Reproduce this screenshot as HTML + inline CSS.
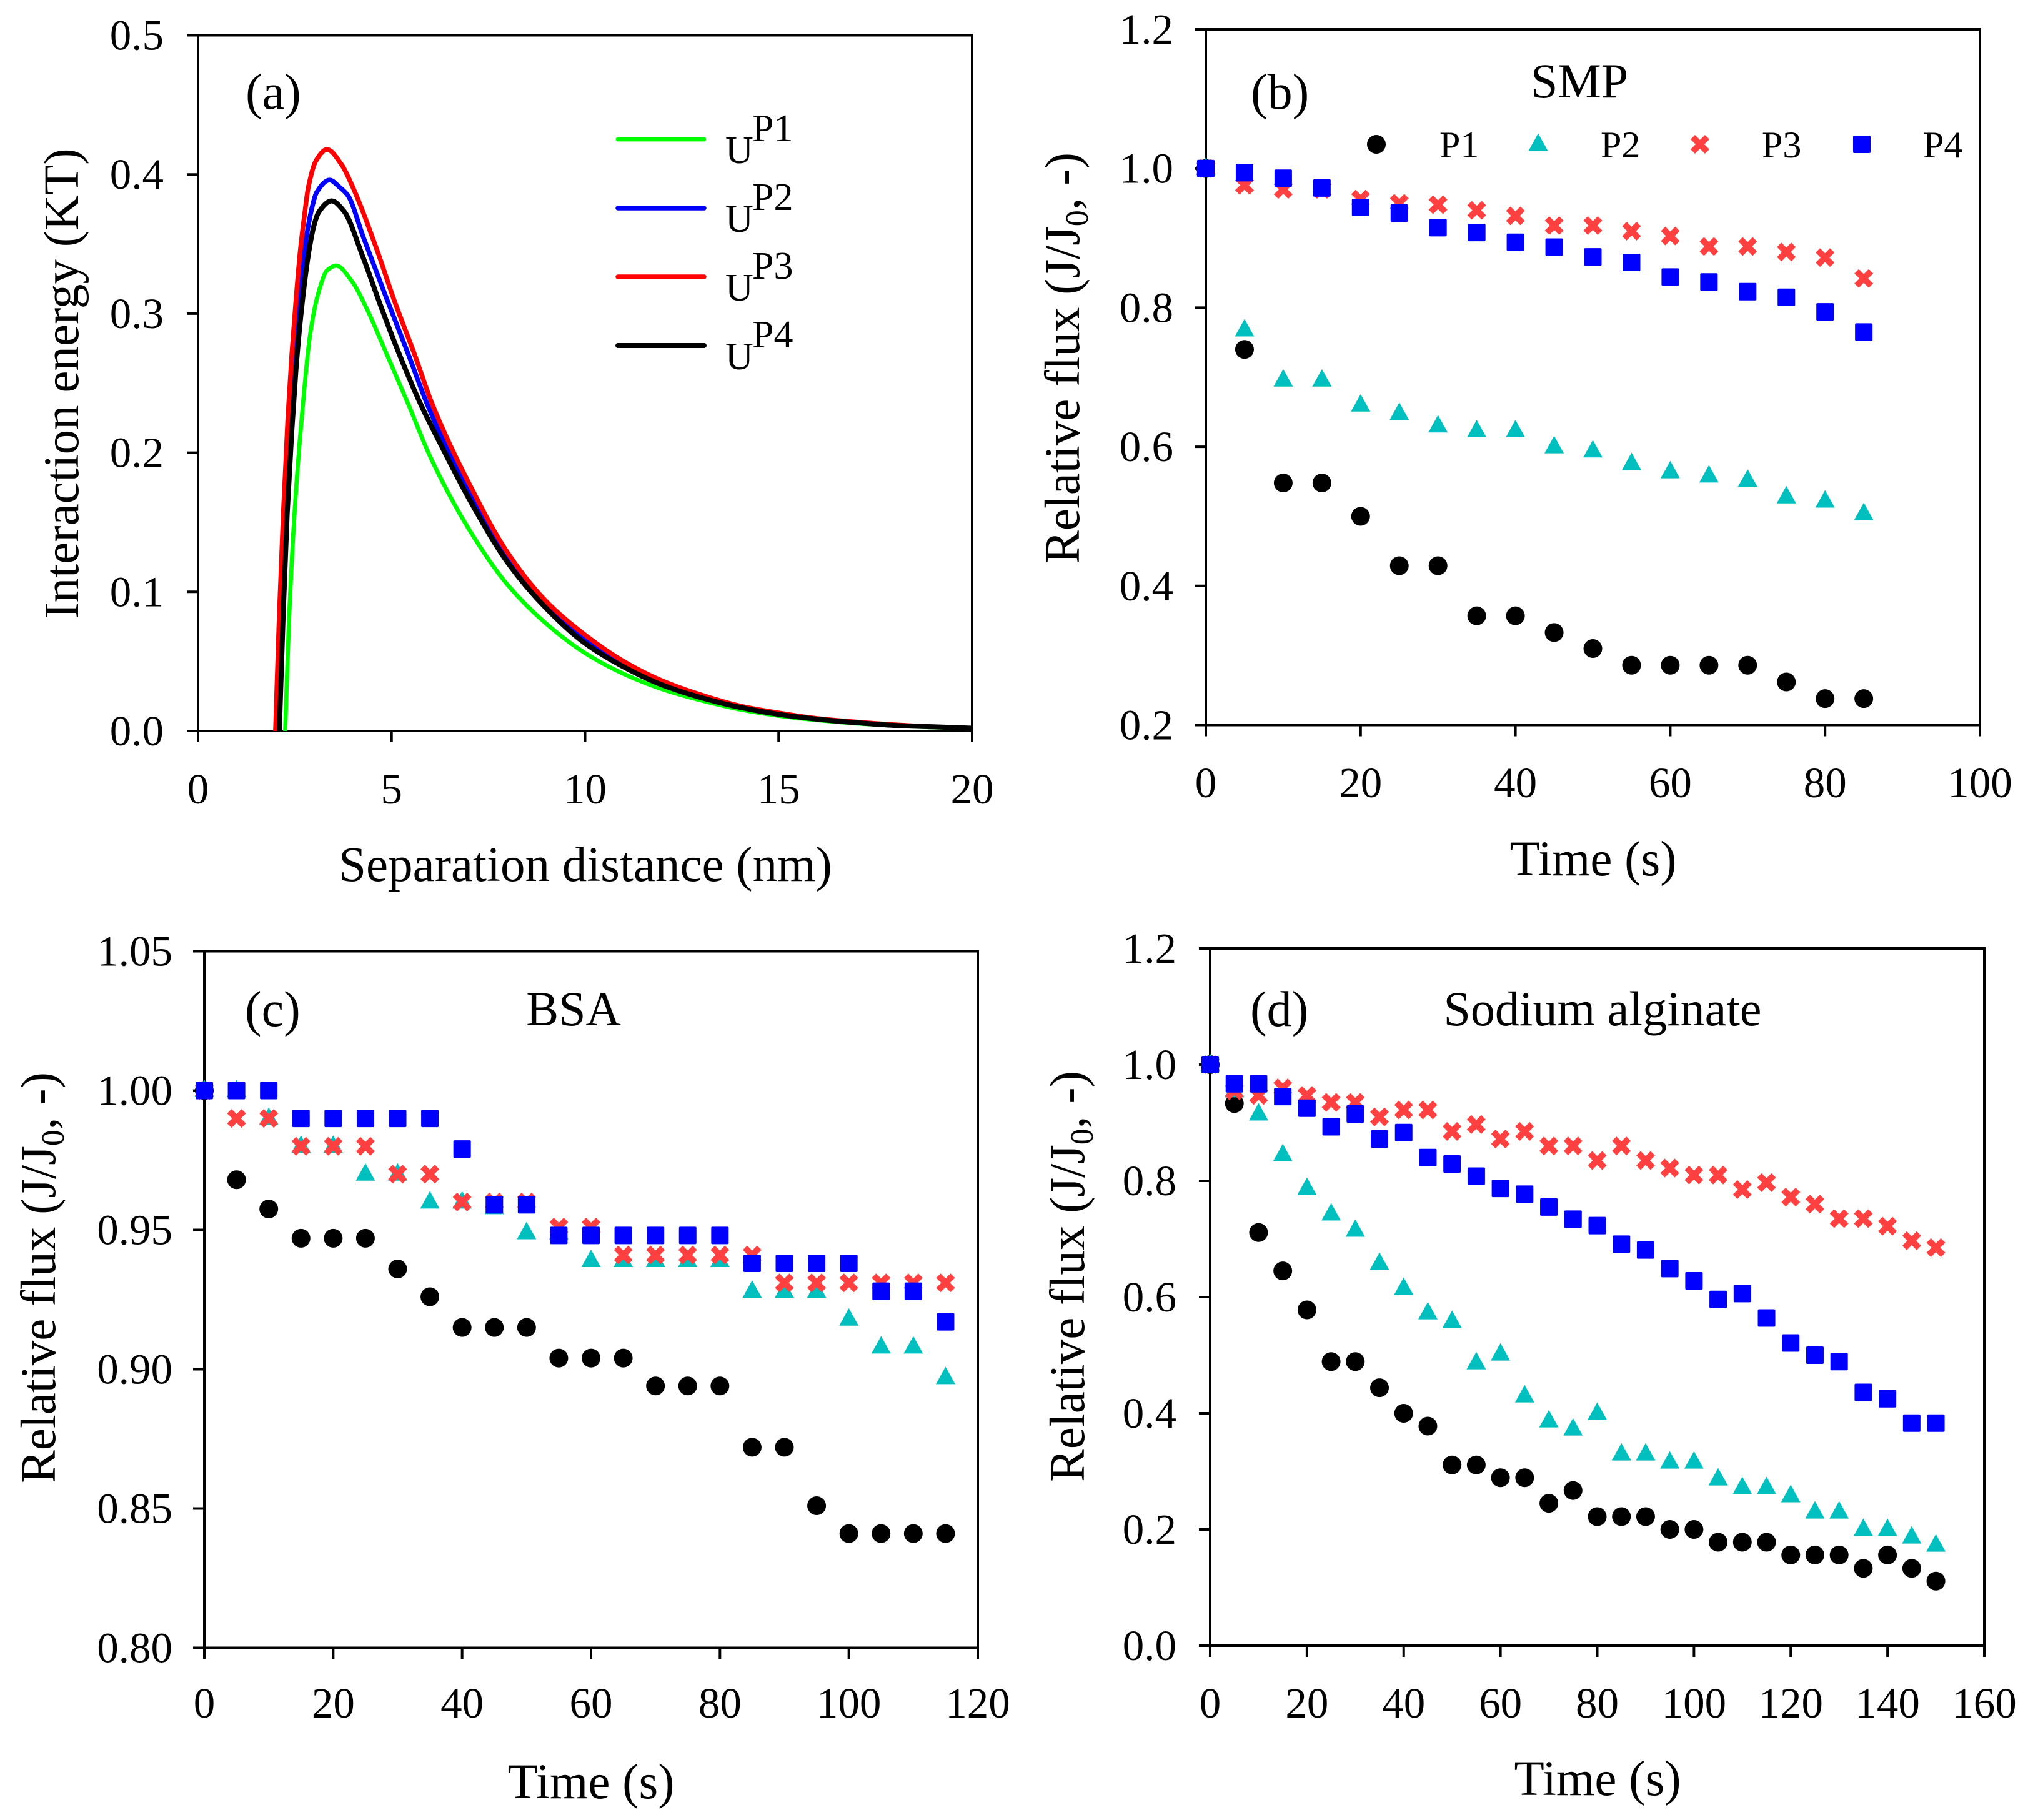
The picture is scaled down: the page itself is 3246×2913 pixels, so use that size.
<!DOCTYPE html>
<html lang="en">
<head>
<meta charset="utf-8">
<title>Interaction energy and relative flux charts</title>
<style>
html,body{margin:0;padding:0;background:#fff;}
svg{display:block;}
text{font-family:"Liberation Serif","Times New Roman",serif;fill:#000;}
</style>
</head>
<body>
<svg id="figure" xmlns="http://www.w3.org/2000/svg" width="3246" height="2913" viewBox="0 0 3246 2913">
  <rect x="0" y="0" width="3246" height="2913" fill="#fff"/>

  <text x="393" y="174" font-size="80">(a)</text>
  <text x="2002" y="174" font-size="80">(b)</text>
  <text x="392" y="1642" font-size="80">(c)</text>
  <text x="2001" y="1642" font-size="80">(d)</text>

  <text x="2528" y="156" font-size="78" text-anchor="middle">SMP</text>
  <text x="918" y="1641" font-size="78" text-anchor="middle">BSA</text>
  <text x="2565" y="1641" font-size="78" text-anchor="middle">Sodium alginate</text>

  <text x="937" y="1410" font-size="79" text-anchor="middle">Separation distance (nm)</text>
  <text x="2550" y="1401" font-size="79" text-anchor="middle">Time (s)</text>
  <text x="946" y="2878" font-size="79" text-anchor="middle">Time (s)</text>
  <text x="2557" y="2873" font-size="79" text-anchor="middle">Time (s)</text>

  <text transform="translate(125 614) rotate(-90)" font-size="79" text-anchor="middle">Interaction energy (KT)</text>
  <text transform="translate(1727 573) rotate(-90)" font-size="79" text-anchor="middle">Relative flux (J/J<tspan dy="14" font-size="52">0</tspan><tspan dy="-14">, -)</tspan></text>
  <text transform="translate(88 2045) rotate(-90)" font-size="79" text-anchor="middle">Relative flux (J/J<tspan dy="14" font-size="52">0</tspan><tspan dy="-14">, -)</tspan></text>
  <text transform="translate(1735 2043) rotate(-90)" font-size="79" text-anchor="middle">Relative flux (J/J<tspan dy="14" font-size="52">0</tspan><tspan dy="-14">, -)</tspan></text>

  <g id="frames"></g>
  <g id="marks"></g>

  <g>
    <line x1="989" x2="1127" y1="223" y2="223" stroke="#00ff00" stroke-width="6.7" stroke-linecap="round"/>
    <text x="1161" y="261" font-size="62">U</text>
    <text x="1204" y="226" font-size="62">P1</text>
    <line x1="989" x2="1127" y1="333" y2="333" stroke="#0000ff" stroke-width="7.5" stroke-linecap="round"/>
    <text x="1161" y="371" font-size="62">U</text>
    <text x="1204" y="336" font-size="62">P2</text>
    <line x1="989" x2="1127" y1="443" y2="443" stroke="#ff0000" stroke-width="7.5" stroke-linecap="round"/>
    <text x="1161" y="481" font-size="62">U</text>
    <text x="1204" y="446" font-size="62">P3</text>
    <line x1="989" x2="1127" y1="553" y2="553" stroke="#000000" stroke-width="8" stroke-linecap="round"/>
    <text x="1161" y="591" font-size="62">U</text>
    <text x="1204" y="556" font-size="62">P4</text>
  </g>

  <g id="legend-b">
    <text x="2304" y="252" font-size="60">P1</text>
    <text x="2562" y="252" font-size="60">P2</text>
    <text x="2820" y="252" font-size="60">P3</text>
    <text x="3078" y="252" font-size="60">P4</text>
  </g>
</svg>

<script>
// Panel (a) — separation distance (nm) and interaction energy (kT)
const energyP1Distance = [2.25,2.35,2.5,2.71,2.9,3.12,3.33,3.57,3.98,4.35,4.78,5.43,6,7,8,9,10,11,12,13,14,15,16,17,18,19,20];
const energyP1Values = [0,0.08,0.16,0.235,0.286,0.316,0.331,0.3345,0.323,0.304,0.277,0.235,0.197,0.145,0.105,0.077,0.056,0.041,0.03,0.022,0.0155,0.011,0.0078,0.0055,0.0038,0.0026,0.0018];
const energyP2Distance = [2.05,2.15,2.25,2.37,2.48,2.6,2.75,2.86,2.95,3.06,3.4,3.65,3.87,4.27,4.87,5.43,5.92,7,8,9,10,11,12,13,14,15,16,17,18,19,20];
const energyP2Values = [0,0.085,0.155,0.22,0.27,0.31,0.346,0.365,0.377,0.387,0.396,0.391,0.385,0.355,0.311,0.271,0.235,0.171,0.124,0.09,0.066,0.048,0.035,0.025,0.018,0.0125,0.0088,0.0062,0.0043,0.003,0.002];
const energyP3Distance = [2,2.1,2.2,2.32,2.42,2.53,2.64,2.75,2.85,3.05,3.33,3.71,3.98,4.62,5.05,5.59,6.05,7,8,9,10,11,12,13,14,15,16,17,18,19,20];
const energyP3Values = [0,0.085,0.155,0.225,0.27,0.31,0.345,0.371,0.391,0.41,0.418,0.407,0.392,0.346,0.311,0.271,0.235,0.178,0.128,0.093,0.069,0.05,0.036,0.026,0.018,0.013,0.009,0.0065,0.0045,0.003,0.002];
const energyP4Distance = [2.1,2.2,2.3,2.42,2.53,2.68,2.87,3,3.12,3.45,3.76,4.27,4.7,5.27,5.75,6.25,7,8,9,10,11,12,13,14,15,16,17,18,19,20];
const energyP4Values = [0,0.085,0.155,0.215,0.26,0.305,0.346,0.364,0.373,0.381,0.374,0.34,0.307,0.266,0.235,0.207,0.167,0.121,0.088,0.063,0.046,0.033,0.024,0.017,0.012,0.0085,0.006,0.004,0.003,0.002];
const energyXTicks = [0,5,10,15,20];
const energyYTicks = ["0.0","0.1","0.2","0.3","0.4","0.5"];

// Panel (b) — SMP
const smpTime = [0,5,10,15,20,25,30,35,40,45,50,55,60,65,70,75,80,85];
const smpP1 = [1,0.74,0.548,0.548,0.5,0.429,0.429,0.357,0.357,0.333,0.31,0.286,0.286,0.286,0.286,0.262,0.238,0.238];
const smpP2 = [1,0.768,0.696,0.696,0.66,0.648,0.63,0.623,0.623,0.6,0.594,0.576,0.564,0.558,0.552,0.528,0.522,0.504];
const smpP3 = [1,0.976,0.97,0.97,0.956,0.95,0.948,0.94,0.932,0.918,0.918,0.91,0.903,0.888,0.888,0.88,0.872,0.842];
const smpP4 = [1,0.994,0.986,0.972,0.944,0.936,0.915,0.908,0.894,0.887,0.873,0.865,0.844,0.837,0.823,0.815,0.794,0.765];
const smpXTicks = [0,20,40,60,80,100];
const smpYTicks = ["0.2","0.4","0.6","0.8","1.0","1.2"];

// Panel (c) — BSA
const bsaTime = [0,5,10,15,20,25,30,35,40,45,50,55,60,65,70,75,80,85,90,95,100,105,110,115];
const bsaP1 = [1,0.968,0.9575,0.947,0.947,0.947,0.936,0.926,0.915,0.915,0.915,0.904,0.904,0.904,0.894,0.894,0.894,0.872,0.872,0.851,0.841,0.841,0.841,0.841];
const bsaP2 = [1,1,0.99,0.98,0.98,0.97,0.97,0.96,0.96,0.958,0.949,0.949,0.939,0.939,0.939,0.939,0.939,0.928,0.928,0.928,0.918,0.908,0.908,0.897];
const bsaP3 = [1,0.99,0.99,0.98,0.98,0.98,0.97,0.97,0.96,0.96,0.96,0.951,0.951,0.941,0.941,0.941,0.941,0.941,0.931,0.931,0.931,0.931,0.931,0.931];
const bsaP4 = [1,1,1,0.99,0.99,0.99,0.99,0.99,0.979,0.959,0.959,0.948,0.948,0.948,0.948,0.948,0.948,0.938,0.938,0.938,0.938,0.928,0.928,0.917];
const bsaXTicks = [0,20,40,60,80,100,120];
const bsaYTicks = ["0.80","0.85","0.90","0.95","1.00","1.05"];

// Panel (d) — Sodium alginate
const alginateTime = [0,5,10,15,20,25,30,35,40,45,50,55,60,65,70,75,80,85,90,95,100,105,110,115,120,125,130,135,140,145,150];
const alginateP1 = [1,0.933,0.711,0.645,0.578,0.489,0.489,0.444,0.4,0.378,0.311,0.311,0.289,0.289,0.245,0.267,0.222,0.222,0.222,0.2,0.2,0.178,0.178,0.178,0.156,0.156,0.156,0.133,0.156,0.133,0.111];
const alginateP2 = [1,0.955,0.915,0.845,0.787,0.743,0.715,0.658,0.615,0.573,0.558,0.487,0.502,0.43,0.387,0.373,0.4,0.33,0.33,0.316,0.316,0.287,0.272,0.272,0.258,0.23,0.23,0.2,0.2,0.187,0.173];
const alginateP3 = [1,0.955,0.947,0.96,0.947,0.935,0.935,0.91,0.922,0.922,0.885,0.897,0.872,0.885,0.86,0.86,0.835,0.86,0.835,0.822,0.81,0.81,0.785,0.797,0.772,0.76,0.735,0.735,0.722,0.697,0.685];
const alginateP4 = [1,0.967,0.967,0.945,0.925,0.893,0.915,0.872,0.883,0.84,0.829,0.808,0.787,0.777,0.755,0.734,0.723,0.691,0.681,0.649,0.628,0.596,0.606,0.564,0.521,0.5,0.489,0.436,0.425,0.383,0.383];
const alginateXTicks = [0,20,40,60,80,100,120,140,160];
const alginateYTicks = ["0.0","0.2","0.4","0.6","0.8","1.0","1.2"];

const SVGNS = "http://www.w3.org/2000/svg";
const framesLayer = document.getElementById("frames");
const marksLayer = document.getElementById("marks");
const legendB = document.getElementById("legend-b");

function makeEl(tag, attrs, parent) {
  const el = document.createElementNS(SVGNS, tag);
  for (const k in attrs) el.setAttribute(k, attrs[k]);
  parent.appendChild(el);
  return el;
}

function makeAxes(left, top, right, bottom, xTicks, yTicks, xBaseline, yLabelRight) {
  const xMin = xTicks[0], xMax = xTicks[xTicks.length - 1];
  const yMin = parseFloat(yTicks[0]), yMax = parseFloat(yTicks[yTicks.length - 1]);
  return {
    left, top, right, bottom, xTicks, yTicks, xBaseline, yLabelRight,
    x: function (v) { return left + (v - xMin) / (xMax - xMin) * (right - left); },
    y: function (v) { return bottom - (v - yMin) / (yMax - yMin) * (bottom - top); }
  };
}

function drawAxes(axes, prefix) {
  const frame = makeEl("rect", {x: axes.left, y: axes.top, width: axes.right - axes.left, height: axes.bottom - axes.top, fill: "none", stroke: "#000", "stroke-width": 4}, framesLayer);
  
  
  axes.xTicks.forEach(function (t) {
    const px = axes.x(t);
    const tick = makeEl("line", {x1: px, x2: px, y1: axes.bottom, y2: axes.bottom + 18, stroke: "#000", "stroke-width": 4}, framesLayer);
    
    
    const label = makeEl("text", {x: px, y: axes.xBaseline, "font-size": 69, "text-anchor": "middle"}, framesLayer);
    
    
    label.textContent = String(t);
  });
  axes.yTicks.forEach(function (t) {
    const py = axes.y(parseFloat(t));
    const tick = makeEl("line", {x1: axes.left - 18, x2: axes.left, y1: py, y2: py, stroke: "#000", "stroke-width": 4}, framesLayer);
    
    
    const label = makeEl("text", {x: axes.yLabelRight, y: py + 23, "font-size": 69, "text-anchor": "end"}, framesLayer);
    
    
    label.textContent = t;
  });
}

// Shape-preserving cubic through the read points, using x-aware tangents
function smoothPath(pts) {
  const n = pts.length;
  const slopes = [];
  for (let i = 0; i < n - 1; i++) {
    slopes.push((pts[i + 1][1] - pts[i][1]) / (pts[i + 1][0] - pts[i][0]));
  }
  const tangents = [slopes[0]];
  for (let i = 1; i < n - 1; i++) {
    const a = slopes[i - 1], b = slopes[i];
    if (a * b <= 0) {
      tangents.push(0);
    } else {
      const h0 = pts[i][0] - pts[i - 1][0], h1 = pts[i + 1][0] - pts[i][0];
      const w1 = 2 * h1 + h0, w2 = h1 + 2 * h0;
      tangents.push((w1 + w2) / (w1 / a + w2 / b));
    }
  }
  tangents.push(slopes[n - 2]);
  let d = "M" + pts[0][0].toFixed(1) + " " + pts[0][1].toFixed(1);
  for (let i = 0; i < n - 1; i++) {
    const h = (pts[i + 1][0] - pts[i][0]) / 3;
    d += "C" + (pts[i][0] + h).toFixed(1) + " " + (pts[i][1] + tangents[i] * h).toFixed(1) + " " +
         (pts[i + 1][0] - h).toFixed(1) + " " + (pts[i + 1][1] - tangents[i + 1] * h).toFixed(1) + " " +
         pts[i + 1][0].toFixed(1) + " " + pts[i + 1][1].toFixed(1);
  }
  return d;
}

function drawCurve(axes, xs, ys, color, width, name) {
  const pts = xs.map(function (v, i) { return [axes.x(v), axes.y(ys[i])]; });
  const curve = makeEl("path", {d: smoothPath(pts), fill: "none", stroke: color, "stroke-width": width, "stroke-linejoin": "round"}, marksLayer);
  
  
}

function drawCircle(cx, cy, parent) {
  return makeEl("circle", {cx: cx, cy: cy, r: 15, fill: "#000"}, parent);
}
function drawTriangle(cx, cy, parent) {
  const pts = [[cx, cy - 17.5], [cx + 15.5, cy + 10.5], [cx - 15.5, cy + 10.5]].map(function (p) { return p.join(","); }).join(" ");
  return makeEl("polygon", {points: pts, fill: "#00bfbf"}, parent);
}
function drawCross(cx, cy, parent) {
  const d = "M" + (cx - 11.5) + " " + (cy - 11.5) + "L" + (cx + 11.5) + " " + (cy + 11.5) + "M" + (cx - 11.5) + " " + (cy + 11.5) + "L" + (cx + 11.5) + " " + (cy - 11.5);
  return makeEl("path", {d: d, fill: "none", stroke: "#ff4040", "stroke-width": 10}, parent);
}
function drawSquare(cx, cy, parent) {
  return makeEl("rect", {x: cx - 14, y: cy - 14, width: 28, height: 28, rx: 2, fill: "#0000ff"}, parent);
}

function drawSeries(axes, xs, ys, shape, name) {
  xs.forEach(function (v, i) {
    const mark = shape(axes.x(v), axes.y(ys[i]), marksLayer);
    
    
  });
}

// Panel (a)
const energyAxes = makeAxes(317, 56.5, 1556, 1170, energyXTicks, energyYTicks, 1286, 262);
drawAxes(energyAxes, "panel-a");
drawCurve(energyAxes, energyP1Distance, energyP1Values, "#00ff00", 6.7, "curve-p1");
drawCurve(energyAxes, energyP2Distance, energyP2Values, "#0000ff", 7.5, "curve-p2");
drawCurve(energyAxes, energyP3Distance, energyP3Values, "#ff0000", 7.5, "curve-p3");
drawCurve(energyAxes, energyP4Distance, energyP4Values, "#000000", 8, "curve-p4");

// Panel (b)
const smpAxes = makeAxes(1930, 47, 3169, 1160.5, smpXTicks, smpYTicks, 1276, 1878);
drawAxes(smpAxes, "panel-b");
drawSeries(smpAxes, smpTime, smpP1, drawCircle, "smp-p1-point");
drawSeries(smpAxes, smpTime, smpP2, drawTriangle, "smp-p2-point");
drawSeries(smpAxes, smpTime, smpP3, drawCross, "smp-p3-point");
drawSeries(smpAxes, smpTime, smpP4, drawSquare, "smp-p4-point");

// Panel (c)
const bsaAxes = makeAxes(327, 1522.5, 1565, 2637.5, bsaXTicks, bsaYTicks, 2749, 276);
drawAxes(bsaAxes, "panel-c");
drawSeries(bsaAxes, bsaTime, bsaP1, drawCircle, "bsa-p1-point");
drawSeries(bsaAxes, bsaTime, bsaP2, drawTriangle, "bsa-p2-point");
drawSeries(bsaAxes, bsaTime, bsaP3, drawCross, "bsa-p3-point");
drawSeries(bsaAxes, bsaTime, bsaP4, drawSquare, "bsa-p4-point");

// Panel (d)
const alginateAxes = makeAxes(1937, 1518, 3176, 2634, alginateXTicks, alginateYTicks, 2749, 1883);
drawAxes(alginateAxes, "panel-d");
drawSeries(alginateAxes, alginateTime, alginateP1, drawCircle, "alginate-p1-point");
drawSeries(alginateAxes, alginateTime, alginateP2, drawTriangle, "alginate-p2-point");
drawSeries(alginateAxes, alginateTime, alginateP3, drawCross, "alginate-p3-point");
drawSeries(alginateAxes, alginateTime, alginateP4, drawSquare, "alginate-p4-point");

// Panel (b) legend symbols
const legendCircle = drawCircle(2203, 231, legendB);


const legendTriangle = drawTriangle(2462, 231, legendB);


const legendCross = drawCross(2721, 231, legendB);


const legendSquare = drawSquare(2980, 231, legendB);


</script>
</body>
</html>
